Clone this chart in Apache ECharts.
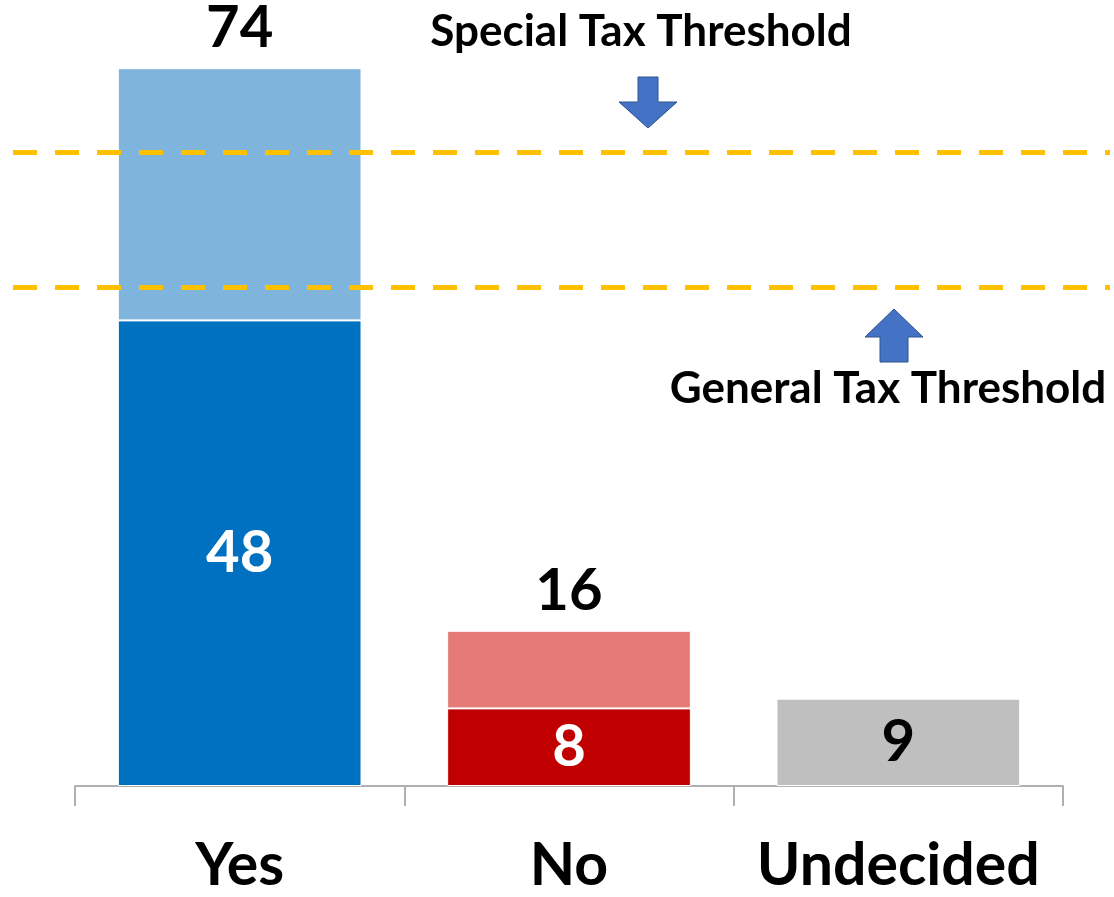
<!DOCTYPE html>
<html><head><meta charset="utf-8">
<script src="https://cdn.jsdelivr.net/npm/echarts@6/dist/echarts.min.js"></script>
<style>html,body{margin:0;padding:0;background:#fff}#c{width:1114px;height:897px}</style>
</head><body><div id="c"></div>
<script>
// ---- data ----
const categories = ['Yes', 'No', 'Undecided'];
const baseValues = [48, 8, 9];
const extraValues = [26, 8, null];
const totalValues = categories.map((c, i) => extraValues[i] == null ? null : baseValues[i] + extraValues[i]);
const thresholdValues = [65.3, 51.4];
const thresholdNames = ['Special Tax Threshold', 'General Tax Threshold'];

// ---- styles ----
const baseColors = ['#0070C0', '#C00000', '#BFBFBF'];
const extraColors = ['#7FB5DD', '#E57A77', '#FFFFFF'];
const baseLabelColors = ['#FFFFFF', '#FFFFFF', '#000000'];
const FONT = 'Lato';

const chart = echarts.init(document.getElementById('c'));

const yMax = 80;
const gridTop = 10, gridBottom = 111;

const option = {
  animation: false,
  backgroundColor: '#fff',
  grid: [
    { left: 75, right: 51, top: gridTop, bottom: gridBottom },
    { left: 13, right: 4, top: gridTop, bottom: gridBottom }
  ],
  xAxis: [
    {
      type: 'category', gridIndex: 0, data: categories, boundaryGap: true,
      axisLine: { show: true, lineStyle: { color: '#B0B0B0', width: 2 } },
      axisTick: { show: true, alignWithLabel: false, interval: 0, length: 20, lineStyle: { color: '#B0B0B0', width: 2 } },
      axisLabel: { show: true, interval: 0, color: '#000', fontFamily: FONT, fontWeight: 'bold', fontSize: 59, margin: 50 }
    },
    { type: 'value', gridIndex: 1, min: 0, max: 1, show: false }
  ],
  yAxis: [
    { type: 'value', gridIndex: 0, min: 0, max: yMax, show: false, splitLine: { show: false } },
    { type: 'value', gridIndex: 1, min: 0, max: yMax, show: false, splitLine: { show: false } }
  ],
  series: [
    {
      type: 'bar', stack: 'v', xAxisIndex: 0, yAxisIndex: 0, barWidth: '74%',
      data: baseValues.map((v, i) => ({
        value: v,
        itemStyle: { color: baseColors[i] },
        label: { color: baseLabelColors[i] }
      })),
      itemStyle: { borderColor: '#fff', borderWidth: 1 },
      label: { show: true, position: 'inside', fontFamily: FONT, fontWeight: 'bold', fontSize: 58 }
    },
    {
      type: 'bar', stack: 'v', xAxisIndex: 0, yAxisIndex: 0, barWidth: '74%',
      data: extraValues.map((v, i) => v == null ? '-' : ({
        value: v,
        itemStyle: { color: extraColors[i] }
      })),
      itemStyle: { borderColor: '#fff', borderWidth: 1 },
      label: {
        show: true, position: 'top', distance: 11, color: '#000',
        fontFamily: FONT, fontWeight: 'bold', fontSize: 58,
        formatter: p => totalValues[p.dataIndex] == null ? '' : String(totalValues[p.dataIndex])
      }
    }
  ].concat(thresholdValues.map((v, i) => ({
    type: 'line', name: thresholdNames[i], xAxisIndex: 1, yAxisIndex: 1, z: 10, silent: true,
    symbol: 'none', data: [[0, v], [1, v]],
    lineStyle: { color: '#FFC000', width: 5, type: [24, 18] }
  }))),
  graphic: [
    {
      type: 'text', style: {
        text: thresholdNames[0], x: 641, y: 32, align: 'center', verticalAlign: 'middle',
        font: 'bold 44px ' + FONT, fill: '#000'
      }
    },
    {
      type: 'text', style: {
        text: thresholdNames[1], x: 888, y: 389, align: 'center', verticalAlign: 'middle',
        font: 'bold 44px ' + FONT, fill: '#000'
      }
    },
    {
      type: 'polygon', shape: { points: [[638, 77], [658, 77], [658, 102], [677, 102], [648, 128], [619, 102], [638, 102]] },
      style: { fill: '#4472C4', stroke: '#2F528F', lineWidth: 1 }
    },
    {
      type: 'polygon', shape: { points: [[894, 309], [923, 337], [908, 337], [908, 362], [880, 362], [880, 337], [865, 337]] },
      style: { fill: '#4472C4', stroke: '#2F528F', lineWidth: 1 }
    }
  ]
};
chart.setOption(option);
</script></body></html>
